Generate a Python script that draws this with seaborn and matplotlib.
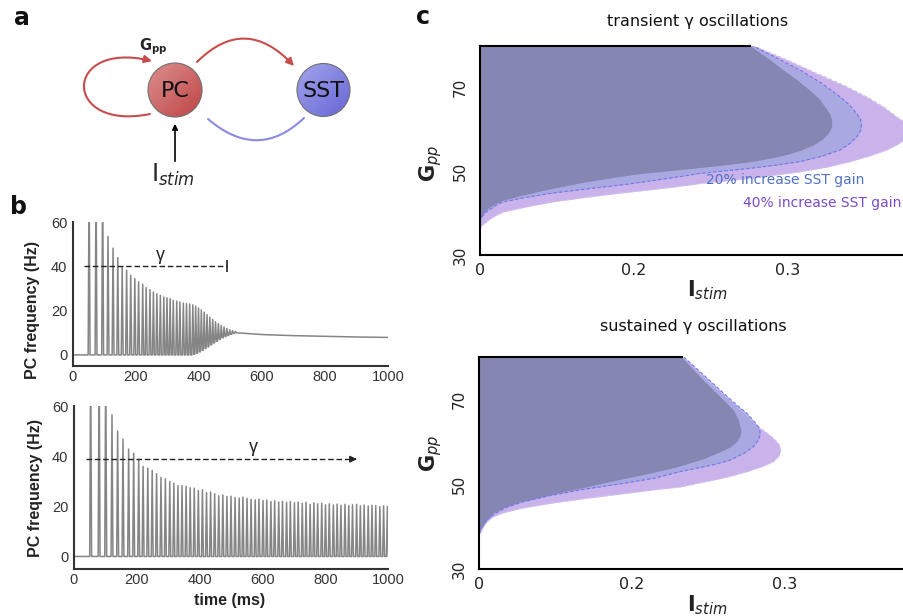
import numpy as np
import pandas as pd
import matplotlib
matplotlib.use("Agg")
import matplotlib.pyplot as plt
import seaborn as sns
from matplotlib.patches import Circle, FancyArrowPatch
from matplotlib.path import Path
from matplotlib.colors import LinearSegmentedColormap

# ---------------- data: panel b (PC firing-rate traces) ----------------
top_peak_t = [52, 74, 95, 112, 128, 143, 157, 171, 184, 197,
              209, 222, 233, 245, 256, 267, 278, 289, 299, 309,
              319, 330, 340, 351, 361, 371, 381, 390, 399, 408,
              417, 426, 435, 444, 453, 462, 471, 480, 489, 498,
              507, 516]
top_peak_hz = [80, 80, 80, 53.5, 48.2, 43.9, 39.8, 38.3, 36.0, 34.5,
               33.0, 31.9, 30.4, 29.5, 28.4, 27.6, 26.9, 26.1, 25.8, 25.4,
               24.6, 24.3, 23.9, 23.4, 23.1, 23.0, 22.6, 22.0, 21.2, 20.3,
               19.3, 18.2, 17.0, 16.0, 15.0, 14.1, 13.3, 12.6, 12.0, 11.4,
               11.0, 10.6]
top_trough_hz = [0, 0, 0, 0, 0, 0, 0, 0, 0, 0,
                 0, 0, 0, 0, 0, 0, 0, 0, 0, 0,
                 0, 0, 0, 0, 0, 0, 0.3, 0.8, 1.4, 2.1,
                 2.9, 3.7, 4.6, 5.4, 6.2, 7.0, 7.7, 8.3, 8.8, 9.3,
                 9.7, 10.0]
top_tail_t = [540, 600, 700, 800, 900, 1000]
top_tail_hz = [9.8, 9.2, 8.7, 8.4, 8.1, 7.9]

bot_peak_t = [53, 80, 101, 121, 139, 156, 174, 190, 206, 220,
              235, 249, 263, 277, 291, 305, 318, 331, 344, 357,
              370, 383, 396, 409, 422, 435, 448, 461, 474, 487,
              500, 513, 526, 538, 551, 564, 577, 589, 602, 614,
              627, 639, 652, 664, 677, 689, 702, 714, 727, 739,
              752, 764, 776, 789, 801, 813, 826, 838, 850, 863,
              875, 887, 900, 912, 924, 937, 949, 961, 974, 986,
              998]
bot_peak_hz = [80, 80, 80, 56.5, 50.0, 46.8, 42.8, 41.2, 38.8, 35.9,
               35.2, 34.3, 33.0, 31.5, 31.0, 29.9, 29.2, 28.3, 28.2, 28.0,
               27.4, 27.2, 26.3, 26.6, 25.5, 25.7, 25.0, 24.2, 24.5, 23.9,
               24.0, 23.5, 23.3, 23.7, 23.2, 22.8, 22.6, 22.9, 22.3, 22.5,
               21.9, 22.2, 21.7, 22.0, 21.6, 21.9, 21.4, 21.7, 21.2, 21.6,
               20.8, 21.4, 21.0, 21.2, 20.6, 21.0, 20.5, 20.9, 20.4, 20.8,
               20.3, 20.6, 20.8, 20.2, 20.5, 20.1, 20.4, 20.3, 19.9, 20.2,
               19.9]
bot_trough_hz = [0.0] * len(bot_peak_t)
bot_tail_t = []
bot_tail_hz = []

b_xticks = [0, 200, 400, 600, 800, 1000]
b_yticks = [0, 20, 40, 60]

# ---------------- data: panel c (oscillation regions) ----------------
# right boundary (Istim) of each region as a function of Gpp
tr_dark_G = [38.4, 39.5, 40.3, 41.1, 42.1, 43.1, 44.1, 45.1, 46.3, 47.5, 48.5, 49.5, 50.7, 51.5,
             52.3, 53.1, 53.9, 55.0, 56.3, 57.6, 59.0, 60.6, 62.2, 63.8, 65.4, 67.4, 69.4, 71.8,
             74.2, 77.0, 80.0]
tr_dark_I = [0.100, 0.1015, 0.103, 0.105, 0.109, 0.115, 0.125, 0.137, 0.152, 0.169, 0.186, 0.205,
             0.238, 0.258, 0.276, 0.288, 0.298, 0.308, 0.3165, 0.322, 0.326, 0.3283, 0.3284, 0.327,
             0.324, 0.320, 0.314, 0.306, 0.297, 0.287, 0.2753]
tr_blue_G = [37.8, 38.7, 39.5, 40.3, 41.0, 41.8, 42.7, 43.7, 44.8, 45.8, 46.7, 47.5, 48.3, 49.5,
             50.7, 51.5, 52.3, 53.6, 55.1, 56.6, 58.2, 59.8, 61.4, 62.6, 63.8, 65.8, 67.8, 71.0,
             74.2, 77.0, 80.0]
tr_blue_I = [0.100, 0.1005, 0.102, 0.104, 0.107, 0.110, 0.115, 0.129, 0.147, 0.170, 0.191, 0.207,
             0.222, 0.243, 0.2753, 0.293, 0.3078, 0.322, 0.3338, 0.340, 0.3446, 0.3472, 0.3478,
             0.3468, 0.3446, 0.340, 0.3338, 0.322, 0.3078, 0.293, 0.277]
tr_purp_G = [36.0, 37.0, 38.5, 39.4, 40.3, 41.5, 42.7, 43.8, 44.8, 46.2, 47.1, 48.3, 49.9, 51.0,
             52.3, 53.7, 55.1, 56.6, 58.0, 60.0, 61.5, 63.0, 65.4, 67.8, 70.6, 73.4, 76.7, 80.0]
tr_purp_I = [0.100, 0.101, 0.106, 0.110, 0.115, 0.130, 0.147, 0.169, 0.191, 0.225, 0.243, 0.2753,
             0.3078, 0.325, 0.340, 0.353, 0.364, 0.372, 0.377, 0.380, 0.377, 0.3706, 0.362, 0.351,
             0.336, 0.3186, 0.299, 0.2775]

su_dark_G = [38.4, 40.0, 41.5, 43.2, 44.5, 45.9, 47.6, 49.4, 51.0, 52.6, 54.0, 55.3, 56.1, 57.7,
             58.9, 60.1, 61.4, 62.8, 65.2, 67.6, 69.5, 71.5, 73.4, 75.4, 77.7, 80.0]
su_dark_I = [0.100, 0.102, 0.105, 0.109, 0.116, 0.127, 0.147, 0.170, 0.190, 0.211, 0.228, 0.240,
             0.247, 0.2575, 0.2645, 0.2684, 0.2706, 0.2712, 0.2695, 0.2662, 0.261, 0.2553, 0.250,
             0.2444, 0.2385, 0.2325]
su_blue_G = [38.2, 40.0, 41.5, 43.0, 44.4, 45.8, 47.3, 48.8, 50.1, 51.4, 53.0, 53.8, 54.7, 55.7,
             57.3, 58.9, 60.2, 61.6, 62.6, 63.6, 65.2, 66.8, 69.5, 72.3, 76.1, 80.0]
su_blue_I = [0.100, 0.102, 0.105, 0.110, 0.117, 0.128, 0.146, 0.168, 0.192, 0.214, 0.2314, 0.2423,
             0.254, 0.264, 0.273, 0.2793, 0.2822, 0.2837, 0.2836, 0.2826, 0.279, 0.275, 0.266,
             0.2575, 0.246, 0.2340]
su_purp_G = [38.0, 40.0, 41.1, 42.3, 43.3, 44.3, 45.5, 46.7, 47.7, 48.7, 49.4, 50.2, 51.0, 52.0,
             53.0, 54.2, 55.4, 56.7, 58.1, 59.5, 60.9, 62.2, 63.6, 66.8, 72.3, 80.0]
su_purp_I = [0.100, 0.103, 0.105, 0.109, 0.116, 0.127, 0.146, 0.170, 0.192, 0.214, 0.2314, 0.242,
             0.2531, 0.265, 0.275, 0.285, 0.2924, 0.2960, 0.2972, 0.2960, 0.2924, 0.288, 0.2826,
             0.274, 0.2565, 0.2335]

I_origin = 0.100
c_xticks = [0.1, 0.2, 0.3]
c_xticklabels = ["0", "0.2", "0.3"]
c_yticks = [30, 50, 70]

# ---------------- style ----------------
sns.set_theme(style="white")
plt.rcParams["font.family"] = ["DejaVu Sans"]
plt.rcParams["mathtext.fontset"] = "dejavusans"

W, H = 904, 616
fig = plt.figure(figsize=(W / 100, H / 100), dpi=100)


def px_axes(l, t, r, b):
    return fig.add_axes([l / W, 1 - b / H, (r - l) / W, (b - t) / H])


# ---------------- panel a: circuit diagram ----------------
axa = px_axes(0, 0, 400, 200)
RED = "#c94c4c"
BLUEC = "#8a8ae6"


def ball(ax, cx, cy, r, c_light, c_dark, label):
    circ = Circle((cx, cy), r, facecolor="none", edgecolor="#707070", lw=0.8, zorder=4)
    ax.add_patch(circ)
    yy, xx = np.mgrid[0:1:64j, 0:1:64j]
    g = (xx + yy) / 2
    cmap = LinearSegmentedColormap.from_list("g", [c_light, c_dark])
    im = ax.imshow(g, cmap=cmap, extent=(cx - r, cx + r, cy + r, cy - r),
                   origin="upper", zorder=3, interpolation="bilinear")
    im.set_clip_path(circ)
    ax.text(cx, cy + 1, label, ha="center", va="center", fontsize=16, color="#111111", zorder=5)


ball(axa, 175, 90, 27, "#dc9090", "#bf4444", "PC")
ball(axa, 323.5, 90, 26.5, "#a4a4ec", "#6666d6", "SST")

loop = Path([(150, 114), (62, 132), (62, 40), (152, 61)],
            [Path.MOVETO, Path.CURVE4, Path.CURVE4, Path.CURVE4])
axa.add_patch(FancyArrowPatch(path=loop, arrowstyle="-|>", mutation_scale=11, color=RED, lw=1.5, zorder=2))
arc_ps = Path([(197, 62), (245, 14), (294, 66)], [Path.MOVETO, Path.CURVE3, Path.CURVE3])
axa.add_patch(FancyArrowPatch(path=arc_ps, arrowstyle="-|>", mutation_scale=11, color=RED, lw=1.5, zorder=2))
arc_sp = Path([(208, 119), (258, 162), (304, 118)], [Path.MOVETO, Path.CURVE3, Path.CURVE3])
axa.add_patch(FancyArrowPatch(path=arc_sp, arrowstyle="-", color=BLUEC, lw=1.5, zorder=2))
axa.add_patch(FancyArrowPatch((175, 164), (175, 121), arrowstyle="-|>", mutation_scale=8,
                              color="black", lw=1.2, zorder=2))
axa.text(153, 47, r"$\mathbf{G_{pp}}$", ha="center", va="center", fontsize=10.5)
axa.text(173, 175, r"$\mathrm{I}_{stim}$", ha="center", va="center", fontsize=17)
axa.set_xlim(0, 400)
axa.set_ylim(200, 0)
axa.set_aspect("auto")
axa.axis("off")

# ---------------- panel b: traces ----------------
def spike_trace(peak_t, peak_hz, trough_hz, half_w, tail_t, tail_hz):
    t, y = [0.0], [0.0]
    prev = 0.0
    for pt, ph, th in zip(peak_t, peak_hz, trough_hz):
        t += [pt - half_w, pt, pt + half_w]
        y += [prev, ph, th]
        prev = th
    t += list(tail_t)
    y += list(tail_hz)
    return pd.DataFrame({"time": t, "rate": y})


BFONT = ["Liberation Sans", "DejaVu Sans"]
TRACE = "#858585"


def style_b(ax, bottom_lbl):
    ax.set_xlim(0, 1000)
    ax.set_ylim(-5, 60)
    ax.set_xticks(b_xticks)
    ax.set_yticks(b_yticks)
    for s in ["top", "right"]:
        ax.spines[s].set_visible(False)
    for s in ["left", "bottom"]:
        ax.spines[s].set_color("#333333")
        ax.spines[s].set_linewidth(1.5)
    ax.tick_params(axis="both", length=0, labelsize=10.5, colors="#333333")
    ax.tick_params(axis="y", pad=4)
    ax.tick_params(axis="x", pad=3)
    for lab in ax.get_xticklabels() + ax.get_yticklabels():
        lab.set_family(BFONT)
    ax.set_ylabel("PC frequency (Hz)", fontsize=11.5, fontweight="bold", family=BFONT, color="#222222")
    ax.yaxis.label.set_va("center")
    if bottom_lbl:
        ax.set_xlabel("time (ms)", fontsize=11.5, fontweight="bold", family=BFONT, color="#222222")
        ax.xaxis.label.set_va("center")
    else:
        ax.set_xlabel("")
    ax.grid(False)


# top b
axb1 = px_axes(72.7, 222, 388, 366)
df1 = spike_trace(top_peak_t, top_peak_hz, top_trough_hz, 3.0, top_tail_t, top_tail_hz)
sns.lineplot(data=df1, x="time", y="rate", sort=False, estimator=None, color=TRACE, lw=1.1, ax=axb1)
style_b(axb1, False)
axb1.yaxis.set_label_coords((33 - 72.7) / (388 - 72.7), (366 - 310) / 144)
axb1.plot([36, 489], [40, 40], ls=(0, (4, 2)), color="#222222", lw=1.0)
axb1.plot([489], [40], marker="|", ms=9, mew=1.2, color="#222222")
axb1.text(277, 45, "γ", ha="center", va="center", fontsize=13, family=BFONT, color="#222222")

# bottom b
axb2 = px_axes(74, 406, 388, 569)
df2 = spike_trace(bot_peak_t, bot_peak_hz, bot_trough_hz, 3.0, bot_tail_t, bot_tail_hz)
sns.lineplot(data=df2, x="time", y="rate", sort=False, estimator=None, color=TRACE, lw=1.1, ax=axb2)
style_b(axb2, True)
axb2.yaxis.set_label_coords((36 - 74) / (388 - 74), (569 - 488) / 163)
axb2.xaxis.set_label_coords((230 - 74) / (388 - 74), (569 - 601) / 163)
axb2.plot([38, 885], [38.8, 38.8], ls=(0, (4, 2)), color="#222222", lw=1.0)
axb2.annotate("", xy=(901, 38.8), xytext=(884, 38.8),
              arrowprops=dict(arrowstyle="-|>", color="#222222", lw=1.0, mutation_scale=10))
axb2.text(570, 43.5, "γ", ha="center", va="center", fontsize=13, family=BFONT, color="#222222")

# ---------------- panel c: regions ----------------
C_DARK = "#8686b2"
C_BLUE = "#a9a9e1"
C_PURP = "#c9b3ea"


def region(ax, G, I, color, edge=None):
    ax.fill_betweenx(G, I_origin, I, color=color, lw=0)
    if edge is not None:
        sns.lineplot(x=I, y=G, sort=False, estimator=None, color=edge, lw=0.8,
                     linestyle=(0, (3, 2)), ax=ax)


def style_c(ax, xmax, title, tx, ty, top_end):
    ax.set_xlim(I_origin, xmax)
    ax.set_ylim(30, 80)
    ax.set_xticks(c_xticks)
    ax.set_xticklabels(c_xticklabels)
    ax.set_yticks(c_yticks)
    ax.set_yticklabels([str(v) for v in c_yticks], rotation=90, va="center")
    ax.spines["right"].set_visible(False)
    ax.spines["top"].set_bounds(I_origin, top_end)
    for s in ["left", "bottom", "top"]:
        ax.spines[s].set_color("black")
        ax.spines[s].set_linewidth(1.5)
    ax.tick_params(axis="x", length=0, labelsize=11.5, pad=5.5, colors="#222222")
    ax.tick_params(axis="y", length=0, labelsize=11, pad=9, colors="#222222")
    ax.set_title(title, fontsize=11.5, x=tx, y=ty, va="center", color="#111111")
    ax.set_xlabel(r"$\mathbf{I}_{stim}$", fontsize=15, color="#222222")
    ax.set_ylabel(r"$\mathbf{G}_{pp}$", fontsize=15, color="#222222")
    ax.xaxis.label.set_va("center")
    ax.yaxis.label.set_va("center")
    ax.grid(False)


# top c
axc1 = px_axes(480, 45.7, 904, 255)
region(axc1, tr_purp_G, tr_purp_I, C_PURP, edge="#d2c2f0")
region(axc1, tr_blue_G, tr_blue_I, C_BLUE, edge="#7474ee")
region(axc1, tr_dark_G, tr_dark_I, C_DARK)
style_c(axc1, I_origin + 424 / 1540, "transient γ oscillations",
        (698 - 480) / 424, (255 - 30) / 209.3, tr_dark_I[-1])
axc1.xaxis.set_label_coords((707 - 480) / 424, (255 - 290) / 209.3)
axc1.yaxis.set_label_coords((431 - 480) / 424, (255 - 163) / 209.3)
axc1.text(0.298, 47.9, "20% increase SST gain", ha="center", va="center", fontsize=10, color="#4f72c4")
axc1.text(0.322, 42.5, "40% increase SST gain", ha="center", va="center", fontsize=10, color="#7b4bc9",
          clip_on=False)

# bottom c
axc2 = px_axes(479, 357.3, 904, 569)
region(axc2, su_purp_G, su_purp_I, C_PURP, edge="#d2c2f0")
region(axc2, su_blue_G, su_blue_I, C_BLUE, edge="#7474ee")
region(axc2, su_dark_G, su_dark_I, C_DARK)
style_c(axc2, I_origin + 425 / 1530, "sustained γ oscillations",
        (693 - 479) / 425, (569 - 335) / 211.7, su_dark_I[-1])
axc2.xaxis.set_label_coords((707 - 479) / 425, (569 - 605) / 211.7)
axc2.yaxis.set_label_coords((431 - 479) / 425, (569 - 453) / 211.7)

# ---------------- panel letters ----------------
for lbl, x, y in [("a", 22, 18), ("b", 19, 207), ("c", 423, 17)]:
    fig.text(x / W, 1 - y / H, lbl, ha="center", va="center", fontsize=17, fontweight="bold", color="#111111")

fig.savefig("out.png", dpi=100)
